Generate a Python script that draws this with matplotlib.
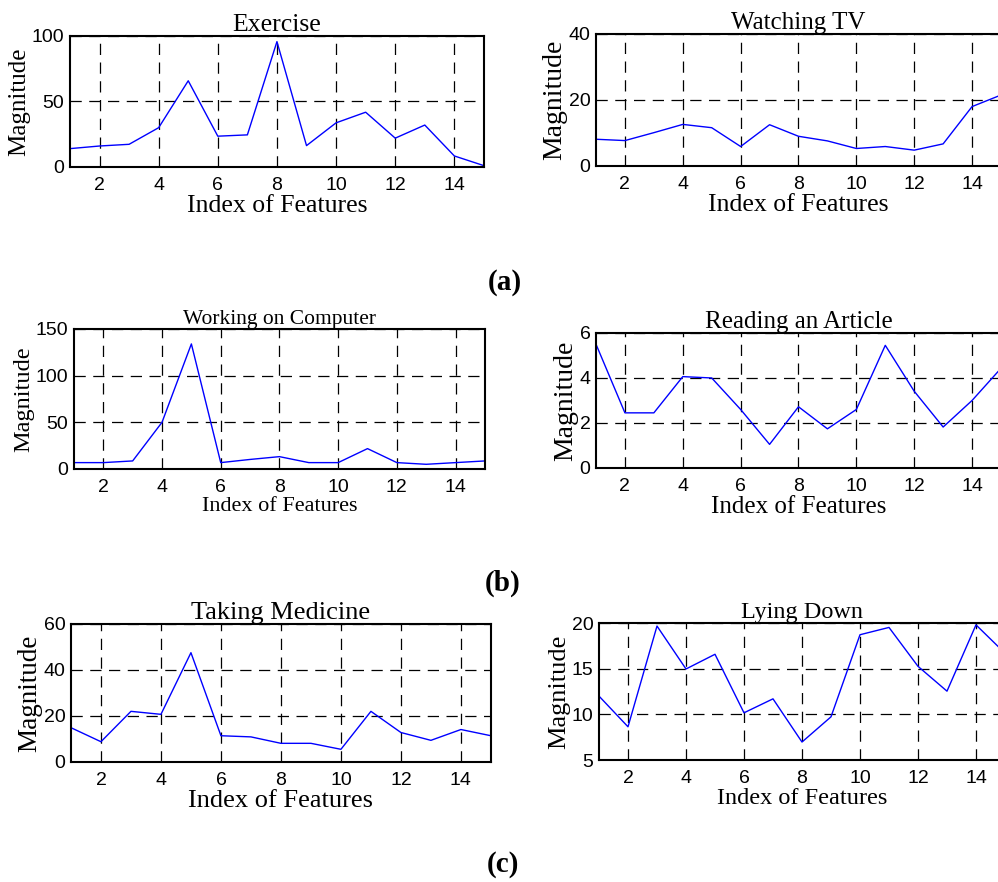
import numpy as np
import matplotlib
matplotlib.use('Agg')
import matplotlib.pyplot as plt

# Данные: индексы признаков и значения для каждого действия
idx = np.arange(1, 16)

exercise = [14, 16, 17.3, 30, 65.8, 23.5, 24.5, 95.7, 16.3, 33.7, 41.8, 22, 32, 8.4, 1]
watching_tv = [8.1, 7.7, 10.1, 12.6, 11.6, 5.9, 12.5, 9.0, 7.6, 5.3, 5.9, 4.8, 6.7, 18, 21.5]
computer = [6.8, 6.8, 8.6, 50, 134, 6.8, 10.2, 13.2, 6.8, 6.8, 21.8, 6.8, 5, 6.8, 8.6]
reading = [5.5, 2.45, 2.45, 4.06, 4.0, 2.6, 1.05, 2.72, 1.74, 2.6, 5.45, 3.41, 1.82, 3.0, 4.43]
medicine = [14.9, 8.8, 22, 20.7, 47.5, 11.4, 10.9, 8.1, 8.1, 5.5, 22, 12.8, 9.4, 14.1, 11.4]
lying = [12.0, 8.64, 19.67, 14.97, 16.58, 10.17, 11.7, 6.97, 9.73, 18.72, 19.52, 15.26, 12.54, 19.8, 16.7]

xticks = [2, 4, 6, 8, 10, 12, 14]

panels = [
    # title, data, ylim, yticks, rect, title size, xlabel size, ylabel size
    ('Exercise', exercise, (0, 100), [0, 50, 100], [0.0701, 0.8107, 0.4148, 0.1485], 18.5, 18.5, 18),
    ('Watching TV', watching_tv, (0, 40), [0, 20, 40], [0.5972, 0.8118, 0.4058, 0.1497], 18, 18.5, 20),
    ('Working on Computer', computer, (0, 150), [0, 50, 100, 150], [0.0741, 0.4683, 0.4118, 0.1587], 15.5, 16, 17.5),
    ('Reading an Article', reading, (0, 6), [0, 2, 4, 6], [0.5972, 0.4694, 0.4058, 0.1531], 18, 18, 20),
    ('Taking Medicine', medicine, (0, 60), [0, 20, 40, 60], [0.0711, 0.1361, 0.4208, 0.1565], 19, 19, 19.5),
    ('Lying Down', lying, (5, 20), [5, 10, 15, 20], [0.6002, 0.1383, 0.4068, 0.1553], 17.5, 17.5, 19),
]

serif = 'Liberation Serif'
sans = 'Liberation Sans'

fig = plt.figure(figsize=(9.98, 8.82), dpi=100)

for title, data, ylim, yticks, rect, tsize, xsize, ysize in panels:
    ax = fig.add_axes(rect)
    ax.plot(idx, data, color='blue', linewidth=1)
    ax.set_xlim(1, 15)
    ax.set_ylim(*ylim)
    ax.set_xticks(xticks)
    ax.set_yticks(yticks)
    ax.grid(True, color='black', linestyle=(0, (9, 6)), linewidth=0.9)
    ax.tick_params(direction='in', length=0, labelsize=14)
    ax.tick_params(axis='x', pad=7)
    ax.tick_params(axis='y', pad=4)
    for lab in ax.get_xticklabels() + ax.get_yticklabels():
        lab.set_family(sans)
    for sp in ax.spines.values():
        sp.set_linewidth(1.5)
    ax.set_title(title, fontsize=tsize, family=serif, pad=1)
    ax.set_xlabel('Index of Features', fontsize=xsize, family=serif, labelpad=1)
    ax.set_ylabel('Magnitude', fontsize=ysize, family=serif, labelpad=1)

# Подписи групп
fig.text(505 / 998, 1 - 282 / 882, '(a)', ha='center', va='center', fontsize=21, fontweight='bold', family=serif)
fig.text(503 / 998, 1 - 583 / 882, '(b)', ha='center', va='center', fontsize=21, fontweight='bold', family=serif)
fig.text(503 / 998, 1 - 865 / 882, '(c)', ha='center', va='center', fontsize=21, fontweight='bold', family=serif)

fig.savefig('out.png', dpi=100, facecolor='white')
